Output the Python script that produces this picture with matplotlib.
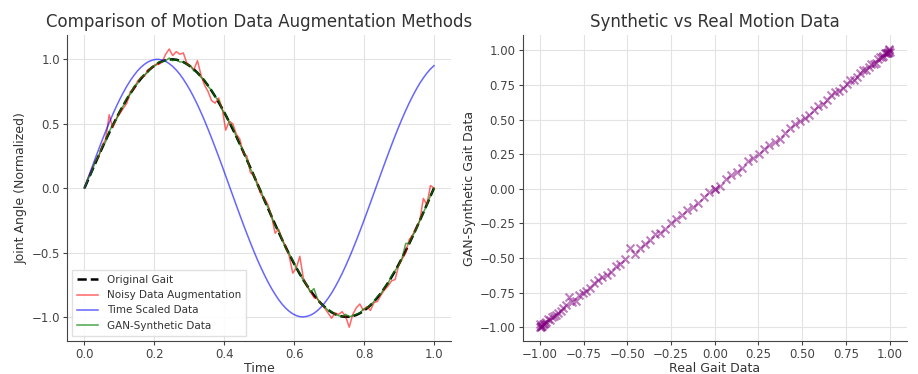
import matplotlib
matplotlib.use("Agg")
import matplotlib.pyplot as plt
import numpy as np

# ── Data (100 samples over one gait cycle) ───────────────────────────────────

time = np.linspace(0, 1, 100)

original_half = [
    0.000, 0.063, 0.127, 0.189, 0.251, 0.312, 0.372, 0.430, 0.486, 0.541,
    0.593, 0.643, 0.690, 0.735, 0.776, 0.815, 0.850, 0.881, 0.910, 0.934,
    0.955, 0.972, 0.985, 0.994, 0.999, 1.000, 0.997, 0.990, 0.979, 0.964,
    0.945, 0.922, 0.896, 0.866, 0.833, 0.796, 0.756, 0.713, 0.667, 0.618,
    0.567, 0.514, 0.458, 0.401, 0.342, 0.282, 0.220, 0.158, 0.095, 0.032,
]
original_gait = original_half + [-v for v in original_half[::-1]]

noisy_gait = [
    0.00, 0.08, 0.14, 0.21, 0.24, 0.33, 0.38, 0.57, 0.47, 0.54,
    0.58, 0.62, 0.66, 0.75, 0.77, 0.83, 0.86, 0.87, 0.92, 0.93,
    0.96, 0.96, 0.98, 1.04, 1.08, 1.03, 1.06, 1.04, 1.05, 0.97,
    0.95, 0.92, 0.99, 0.88, 0.80, 0.75, 0.68, 0.66, 0.70, 0.62,
    0.45, 0.52, 0.50, 0.42, 0.38, 0.27, 0.25, 0.12, 0.10, 0.04,
    -0.05, -0.08, -0.13, -0.22, -0.35, -0.32, -0.40, -0.45, -0.53, -0.66,
    -0.62, -0.53, -0.70, -0.76, -0.80, -0.85, -0.86, -0.90, -0.93, -0.97,
    -1.01, -0.97, -0.98, -0.96, -1.00, -1.08, -0.98, -0.93, -0.90, -0.95,
    -0.92, -0.95, -0.89, -0.88, -0.83, -0.79, -0.76, -0.72, -0.71, -0.60,
    -0.55, -0.50, -0.40, -0.36, -0.31, -0.25, -0.08, -0.13, 0.02, 0.00,
]

time_scaled = [
    0.000, 0.076, 0.152, 0.227, 0.300, 0.372, 0.441, 0.508, 0.572, 0.633,
    0.690, 0.743, 0.792, 0.836, 0.875, 0.910, 0.939, 0.962, 0.980, 0.992,
    0.999, 1.000, 0.995, 0.984, 0.967, 0.945, 0.917, 0.885, 0.846, 0.803,
    0.756, 0.704, 0.648, 0.588, 0.525, 0.458, 0.389, 0.318, 0.245, 0.171,
    0.095, 0.019, -0.057, -0.133, -0.208, -0.282, -0.354, -0.424, -0.492, -0.557,
    -0.618, -0.676, -0.730, -0.780, -0.825, -0.866, -0.902, -0.932, -0.957, -0.976,
    -0.990, -0.998, -1.000, -0.996, -0.987, -0.972, -0.951, -0.925, -0.893, -0.856,
    -0.815, -0.768, -0.717, -0.662, -0.603, -0.541, -0.475, -0.407, -0.336, -0.263,
    -0.189, -0.114, -0.038, 0.038, 0.114, 0.189, 0.263, 0.336, 0.407, 0.475,
    0.541, 0.603, 0.662, 0.717, 0.768, 0.815, 0.856, 0.893, 0.925, 0.951,
]

gan_synthetic = [
    0.00, 0.07, 0.12, 0.20, 0.25, 0.32, 0.36, 0.44, 0.49, 0.53,
    0.60, 0.64, 0.70, 0.73, 0.79, 0.81, 0.86, 0.88, 0.90, 0.94,
    0.95, 0.98, 0.98, 0.99, 1.01, 0.99, 1.00, 0.98, 0.98, 0.96,
    0.95, 0.91, 0.90, 0.86, 0.84, 0.79, 0.76, 0.71, 0.68, 0.61,
    0.57, 0.51, 0.47, 0.40, 0.34, 0.29, 0.22, 0.15, 0.10, 0.02,
    -0.02, -0.10, -0.15, -0.22, -0.29, -0.33, -0.40, -0.47, -0.51, -0.56,
    -0.62, -0.66, -0.72, -0.75, -0.81, -0.78, -0.86, -0.90, -0.92, -0.95,
    -0.96, -0.98, -0.99, -1.00, -0.98, -1.00, -0.99, -0.98, -0.97, -0.94,
    -0.93, -0.91, -0.88, -0.84, -0.82, -0.77, -0.74, -0.68, -0.64, -0.60,
    -0.54, -0.43, -0.43, -0.37, -0.32, -0.25, -0.19, -0.13, -0.06, 0.00,
]

# ── Style ─────────────────────────────────────────────────────────────────────

plt.rcParams.update({
    "font.family": "DejaVu Sans",
    "text.color": "#333333",
    "axes.labelcolor": "#333333",
    "axes.edgecolor": "#444444",
    "xtick.color": "#444444",
    "ytick.color": "#444444",
    "axes.grid": True,
    "grid.color": "#e3e3e3",
    "grid.linewidth": 0.8,
})

fig, (ax1, ax2) = plt.subplots(1, 2, figsize=(9.18, 3.74), dpi=100)
fig.subplots_adjust(left=0.073, right=0.988, bottom=0.088, top=0.906, wspace=0.185)

# ── Left: augmentation methods ───────────────────────────────────────────────

ax1.plot(time, original_gait, "k--", lw=1.8, label="Original Gait")
ax1.plot(time, noisy_gait, color="red", lw=1.1, alpha=0.6, label="Noisy Data Augmentation")
ax1.plot(time, time_scaled, color="blue", lw=1.1, alpha=0.6, label="Time Scaled Data")
ax1.plot(time, gan_synthetic, color="green", lw=1.1, alpha=0.7, label="GAN-Synthetic Data")

ax1.set_title("Comparison of Motion Data Augmentation Methods", fontsize=12)
ax1.set_xlabel("Time", fontsize=9, labelpad=1)
ax1.set_ylabel("Joint Angle (Normalized)", fontsize=9, labelpad=3)
ax1.set_yticks([-1.0, -0.5, 0.0, 0.5, 1.0])
ax1.legend(loc="lower left", fontsize=7.5, framealpha=0.9, edgecolor="#dddddd",
           fancybox=False, borderpad=0.5)

# ── Right: synthetic vs real ────────────────────────────────────────────────

ax2.scatter(original_gait, gan_synthetic, marker="x", color="purple", alpha=0.5, s=32)
ax2.set_title("Synthetic vs Real Motion Data", fontsize=12)
ax2.set_xlabel("Real Gait Data", fontsize=9, labelpad=1)
ax2.set_ylabel("GAN-Synthetic Gait Data", fontsize=9, labelpad=3)
ax2.set_xticks(np.arange(-1, 1.01, 0.25))
ax2.set_yticks(np.arange(-1, 1.01, 0.25))

for ax in (ax1, ax2):
    ax.spines["top"].set_visible(False)
    ax.spines["right"].set_visible(False)
    ax.tick_params(labelsize=8.5, length=3, pad=2)
    ax.set_axisbelow(True)

fig.savefig("out.png", dpi=100)
